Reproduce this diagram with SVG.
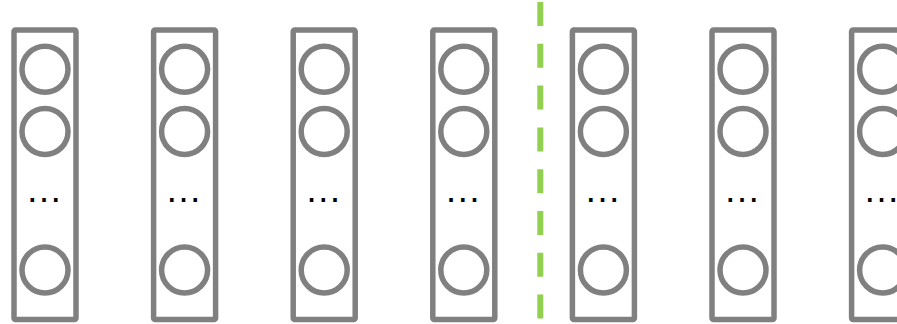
<svg xmlns="http://www.w3.org/2000/svg" width="897" height="324" viewBox="0 0 897 324">
<style>
.box{fill:#fff;stroke:#808080;stroke-width:5.5;stroke-linejoin:round}
.c{fill:none;stroke:#808080;stroke-width:5.5}
.dots{font-family:"Liberation Sans",Arial,sans-serif;font-size:37px;fill:#000;text-anchor:middle}
.sep{stroke:#92d050;stroke-width:6;stroke-dasharray:24 17.8;fill:none}
</style>
<defs>
<g id="col">
<rect class="box" x="0" y="30" width="62" height="289.5" rx="1.5"/>
<circle class="c" cx="31" cy="69.2" r="23"/>
<circle class="c" cx="31" cy="131.5" r="23"/>
<circle class="c" cx="31" cy="270" r="23"/>
<text class="dots" x="30" y="202.3">…</text>
</g>
</defs>
<rect width="897" height="324" fill="#fff"/>
<g id="node1"><use href="#col" x="14"/></g>
<g id="node2"><use href="#col" x="153.6"/></g>
<g id="node3"><use href="#col" x="293.2"/></g>
<g id="node4"><use href="#col" x="432.8"/></g>
<g id="node5"><use href="#col" x="572.4"/></g>
<g id="node6"><use href="#col" x="712"/></g>
<g id="node7"><use href="#col" x="851.6"/></g>
<g id="connectors">
<line class="sep" x1="540.3" y1="2" x2="540.3" y2="320"/>
</g>
</svg>
